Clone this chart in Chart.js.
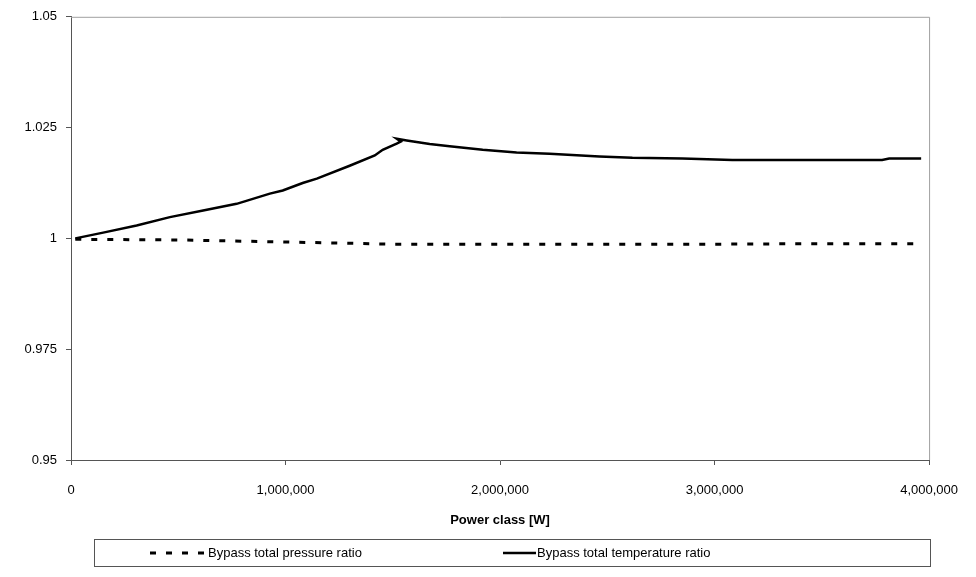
<!DOCTYPE html>
<html>
<head>
<meta charset="utf-8">
<script src="https://cdn.jsdelivr.net/npm/chart.js@4"></script>
<style>
  html, body { margin: 0; padding: 0; background: #fff; }
  #wrap { width: 976px; height: 577px; }
</style>
</head>
<body>
<div id="wrap"><canvas id="chart" width="976" height="577"></canvas></div>
<script>
// valores (potência em W)
const tempX = [20000, 150000, 306000, 461000, 616000, 772000, 927000, 987000, 1080000, 1146000,
  1299000, 1416000, 1453000, 1518000, 1537000, 1518000, 1565000, 1672000, 1765000, 1919000,
  2077000, 2231000, 2463000, 2617000, 2850000, 3083000, 3781000, 3814000, 3963000];
const tempY = [1.0, 1.0013, 1.0029, 1.0048, 1.0063, 1.0078, 1.0101, 1.0108, 1.0125, 1.0135,
  1.0164, 1.0187, 1.0200, 1.0214, 1.02185, 1.0225, 1.0221, 1.0213, 1.0208, 1.0200,
  1.0194, 1.0191, 1.0185, 1.0182, 1.0180, 1.0177, 1.0177, 1.0180, 1.0180];

const pressX = [20000, 500000, 880000, 1200000, 1500000, 2000000, 2500000, 3000000, 3450000, 3963000];
const pressY = [0.9998, 0.99965, 0.9993, 0.9990, 0.9987, 0.9987, 0.9987, 0.9987, 0.9988, 0.9988];

const seriesLabels = ['Bypass total pressure ratio', 'Bypass total temperature ratio'];
const xTitle = 'Power class [W]';

const FONT = "'Liberation Sans', Arial, sans-serif";
const toPoints = (xs, ys) => xs.map((x, i) => ({ x: x, y: ys[i] }));

// moldura cinza (topo e direita) + legenda com caixa, como no original
const framePlugin = {
  id: 'frame',
  afterDraw(chart) {
    const { ctx, chartArea: a } = chart;
    ctx.save();
    ctx.strokeStyle = '#a0a0a0';
    ctx.lineWidth = 1;
    ctx.beginPath();
    ctx.moveTo(a.left, a.top + 0.5);
    ctx.lineTo(a.right + 0.5, a.top + 0.5);
    ctx.lineTo(a.right + 0.5, a.bottom);
    ctx.stroke();

    // caixa da legenda
    ctx.strokeStyle = '#555';
    ctx.strokeRect(94.5, 539.5, 836, 27);

    const ds = chart.data.datasets;
    const items = [
      { x0: 150, x1: 205, tx: 208 },
      { x0: 503, x1: 536, tx: 537 }
    ];
    ctx.font = '13px ' + FONT;
    ctx.fillStyle = '#000';
    ctx.textBaseline = 'middle';
    items.forEach((it, i) => {
      ctx.beginPath();
      ctx.strokeStyle = '#000';
      ctx.lineWidth = ds[i].borderWidth;
      ctx.setLineDash(ds[i].borderDash || []);
      ctx.moveTo(it.x0, 553);
      ctx.lineTo(it.x1, 553);
      ctx.stroke();
      ctx.setLineDash([]);
      ctx.fillText(ds[i].label, it.tx, 553);
    });
    ctx.restore();
  }
};

new Chart(document.getElementById('chart'), {
  type: 'scatter',
  data: {
    datasets: [
      {
        label: seriesLabels[0],
        data: toPoints(pressX, pressY),
        showLine: true,
        borderColor: '#000',
        borderWidth: 3,
        borderDash: [6, 10],
        pointRadius: 0,
        tension: 0
      },
      {
        label: seriesLabels[1],
        data: toPoints(tempX, tempY),
        showLine: true,
        borderColor: '#000',
        borderWidth: 2.5,
        pointRadius: 0,
        tension: 0
      }
    ]
  },
  options: {
    responsive: false,
    animation: false,
    devicePixelRatio: 1,
    layout: { padding: { left: 0, top: 16, right: 45, bottom: 47 } },
    plugins: {
      legend: { display: false },
      tooltip: { enabled: false }
    },
    scales: {
      x: {
        type: 'linear',
        min: 0,
        max: 4000000,
        afterFit(scale) { scale.height = 70; },
        border: { color: '#555', width: 1 },
        grid: { drawOnChartArea: false, drawTicks: true, tickLength: 5, color: '#555' },
        ticks: {
          stepSize: 1000000,
          color: '#000',
          padding: 18,
          maxRotation: 0,
          font: { family: FONT, size: 13 },
          callback: v => v.toLocaleString('en-US')
        },
        title: {
          display: true,
          text: xTitle,
          color: '#000',
          font: { family: FONT, size: 13, weight: 'bold' },
          padding: { top: 6, bottom: 2 }
        }
      },
      y: {
        min: 0.95,
        max: 1.05,
        afterFit(scale) { scale.width = 71; },
        border: { color: '#555', width: 1 },
        grid: { drawOnChartArea: false, drawTicks: true, tickLength: 5, color: '#555' },
        ticks: {
          stepSize: 0.025,
          color: '#000',
          padding: 9,
          font: { family: FONT, size: 13 },
          callback: v => String(+v.toFixed(3))
        }
      }
    }
  },
  plugins: [framePlugin]
});
</script>
</body>
</html>
